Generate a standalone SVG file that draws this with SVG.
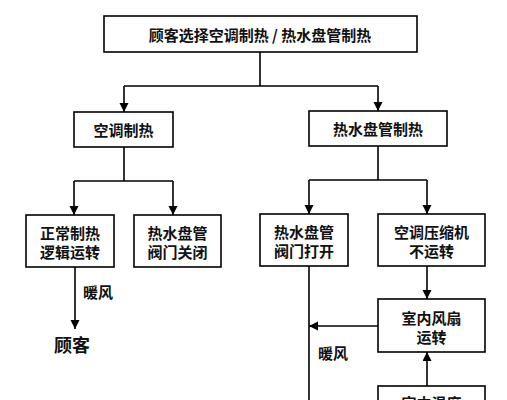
<svg xmlns="http://www.w3.org/2000/svg" width="507" height="400" viewBox="0 0 507 400">
<style>
.box{fill:#fff;stroke:#000;stroke-width:1.6}
.t{font-family:"Noto Sans CJK SC","Noto Sans CJK JP",sans-serif;font-size:15px;font-weight:700;fill:#111;text-anchor:middle;dominant-baseline:central}
.big{font-size:18px}
.c{fill:none;stroke:#000;stroke-width:1.6}
.a{marker-end:url(#arr)}
</style>
<defs>
<marker id="arr" markerUnits="userSpaceOnUse" markerWidth="10" markerHeight="10" refX="9" refY="4.5" orient="auto">
<path d="M0,0 L9,4.5 L0,9 z" fill="#000"/>
</marker>
</defs>
<rect width="507" height="400" fill="#fff"/>
<g id="connectors">
<path class="c" d="M260,52 V86 M124,86 H378"/>
<path class="c a" d="M124,86 V112"/>
<path class="c a" d="M378,86 V111"/>
<path class="c" d="M124,147 V181 M74,181 H173"/>
<path class="c a" d="M74,181 V215"/>
<path class="c a" d="M173,181 V215"/>
<path class="c" d="M378,146 V180 M309,180 H427"/>
<path class="c a" d="M309,180 V214"/>
<path class="c a" d="M427,180 V214"/>
<path class="c a" d="M75,267 V329"/>
<path class="c" d="M309,266 V400"/>
<path class="c a" d="M378,326 H309"/>
<path class="c a" d="M427,266 V299"/>
<path class="c a" d="M427,386 V352"/>
</g>
<g id="n-top">
<rect class="box" x="104" y="16" width="313" height="36"/>
<text class="t" x="260" y="34">顾客选择空调制热 / 热水盘管制热</text>
</g>
<g id="n-ac">
<rect class="box" x="74" y="112" width="99" height="35"/>
<text class="t" x="123.5" y="129.5">空调制热</text>
</g>
<g id="n-hw">
<rect class="box" x="309" y="111" width="138" height="35"/>
<text class="t" x="378" y="128.5">热水盘管制热</text>
</g>
<g id="n-normal">
<rect class="box" x="26" y="215" width="88" height="52"/>
<text class="t" x="70" y="232">正常制热</text>
<text class="t" x="70" y="251">逻辑运转</text>
</g>
<g id="n-close">
<rect class="box" x="134" y="215" width="87" height="52"/>
<text class="t" x="177.5" y="232">热水盘管</text>
<text class="t" x="177.5" y="251">阀门关闭</text>
</g>
<g id="n-open">
<rect class="box" x="260" y="214" width="88" height="52"/>
<text class="t" x="304" y="231">热水盘管</text>
<text class="t" x="304" y="250">阀门打开</text>
</g>
<g id="n-comp">
<rect class="box" x="378" y="214" width="107" height="52"/>
<text class="t" x="431.5" y="231">空调压缩机</text>
<text class="t" x="431.5" y="250">不运转</text>
</g>
<g id="n-fan">
<rect class="box" x="378" y="299" width="107" height="53"/>
<text class="t" x="431.5" y="317">室内风扇</text>
<text class="t" x="431.5" y="336">运转</text>
</g>
<g id="n-temp">
<rect class="box" x="378" y="386" width="107" height="40"/>
<text class="t" x="431.5" y="402">室内温度</text>
</g>
<g id="labels">
<text class="t" x="98" y="291">暖风</text>
<text class="t big" x="72" y="344">顾客</text>
<text class="t" x="333" y="352">暖风</text>
</g>
</svg>
